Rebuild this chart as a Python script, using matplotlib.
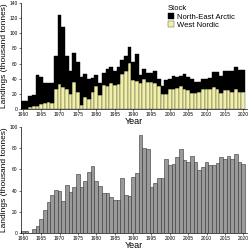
import numpy as np
import matplotlib
matplotlib.use("Agg")
import matplotlib.pyplot as plt

plt.rcParams["font.family"] = ["Liberation Sans", "DejaVu Sans"]

years = np.arange(1960, 2021)

total_top = [10, 11, 17, 19, 45, 42, 34, 34, 35, 70,
             124, 108, 70, 50, 74, 62, 42, 46, 40, 41,
             45, 34, 48, 53, 56, 50, 55, 65, 70, 82,
             62, 72, 45, 53, 47, 48, 50, 40, 30, 38,
             40, 43, 42, 44, 46, 42, 40, 36, 36, 40,
             40, 41, 49, 49, 44, 50, 50, 50, 56, 52, 51]

west_nordic = [0, 0, 2, 4, 4, 6, 8, 9, 8, 26,
               33, 29, 26, 20, 36, 23, 5, 16, 13, 23,
               31, 18, 32, 30, 34, 32, 33, 46, 50, 61,
               38, 37, 35, 40, 36, 36, 35, 30, 20, 20,
               26, 27, 28, 30, 27, 25, 21, 21, 22, 26,
               26, 26, 29, 27, 21, 25, 25, 23, 27, 23, 23]

ne_arctic = [t - w for t, w in zip(total_top, west_nordic)]

bottom_landings = [2, 2, 0, 4, 7, 13, 22, 29, 36, 41,
                   40, 30, 45, 39, 43, 56, 43, 49, 58, 63,
                   49, 44, 38, 38, 34, 31, 31, 52, 36, 35,
                   53, 57, 92, 80, 79, 43, 47, 52, 52, 70,
                   64, 65, 72, 79, 69, 67, 73, 67, 59, 62,
                   67, 64, 64, 66, 72, 70, 73, 70, 75, 67, 65]

fig = plt.figure(figsize=(2.5, 2.5), dpi=100)
ax1 = fig.add_axes([0.084, 0.564, 0.904, 0.424])
ax2 = fig.add_axes([0.084, 0.068, 0.904, 0.424])

ax1.bar(years, west_nordic, width=1.0, color="#f2f0a6", edgecolor="#444444",
        linewidth=0.3, label="West Nordic")
ax1.bar(years, ne_arctic, bottom=west_nordic, width=1.0, color="black",
        edgecolor="black", linewidth=0.3, label="North-East Arctic")
ax1.set_ylim(0, 140)
ax1.set_yticks(np.arange(0, 141, 20))

ax2.bar(years, bottom_landings, width=1.0, color="#9a9a9a", edgecolor="#333333",
        linewidth=0.4)
ax2.set_ylim(0, 100)
ax2.set_yticks(np.arange(0, 101, 20))

for ax in (ax1, ax2):
    ax.set_xlim(1959.5, 2021)
    ax.set_xticks(np.arange(1960, 2021, 5))
    ax.spines["top"].set_visible(False)
    ax.spines["right"].set_visible(False)
    ax.spines["left"].set_linewidth(0.5)
    ax.spines["bottom"].set_linewidth(0.5)
    ax.tick_params(labelsize=3.5, length=1.5, width=0.4, pad=1)
    ax.set_xlabel("Year", fontsize=6.5, labelpad=0)
    ax.set_ylabel("Landings (thousand tonnes)", fontsize=6, labelpad=1)

handles, labels = ax1.get_legend_handles_labels()
leg = ax1.legend(handles[::-1], labels[::-1], title="Stock", loc="upper right",
                 bbox_to_anchor=(0.97, 1.03), frameon=False, fontsize=5.5,
                 title_fontsize=5.5, handlelength=0.8, handleheight=0.8,
                 handletextpad=0.4, labelspacing=0.1, borderpad=0.2)
leg._legend_box.align = "left"

fig.savefig("out.png", dpi=100)
